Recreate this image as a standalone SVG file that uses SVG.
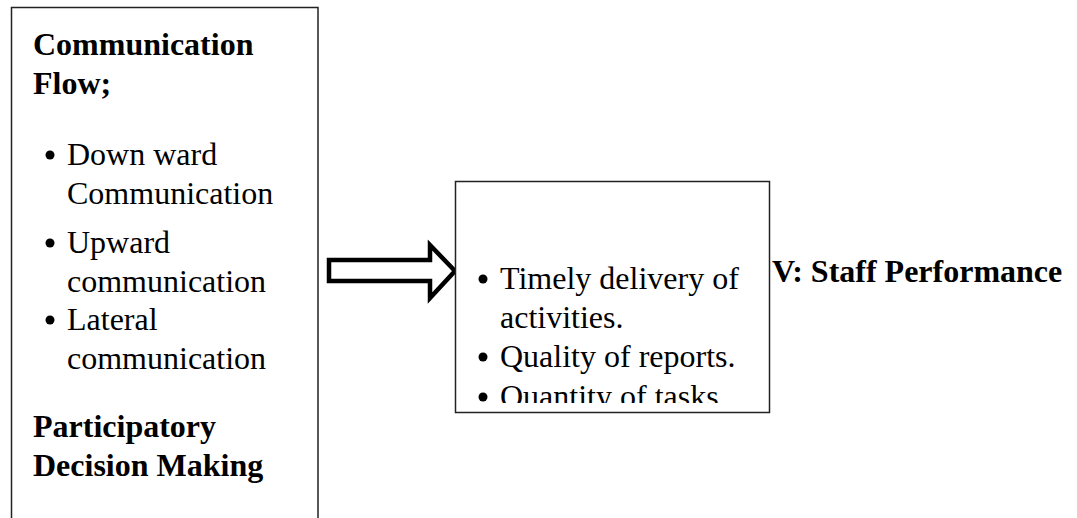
<svg xmlns="http://www.w3.org/2000/svg" width="1077" height="518" viewBox="0 0 1077 518">
<style>
.box{fill:#fff;stroke:#222;stroke-width:1.5}
.h{font-family:"Liberation Serif","Times New Roman",serif;font-size:32px;font-weight:bold;fill:#000}
.t{font-family:"Liberation Serif","Times New Roman",serif;font-size:32px;fill:#000}
.b{fill:#000}
</style>
<defs>
<clipPath id="clipR"><rect x="456" y="182" width="313" height="221"/></clipPath>
</defs>
<rect width="1077" height="518" fill="#fff"/>
<g id="iv-box">
<path class="box" d="M11.5,530 V7.5 H318 V530"/>
<text class="h" x="33" y="55">Communication</text>
<text class="h" x="33" y="94">Flow;</text>
<circle class="b" cx="50" cy="155" r="4.5"/>
<text class="t" x="67" y="165">Down ward</text>
<text class="t" x="67" y="204">Communication</text>
<circle class="b" cx="50" cy="243" r="4.5"/>
<text class="t" x="67" y="253">Upward</text>
<text class="t" x="67" y="292">communication</text>
<circle class="b" cx="50" cy="320" r="4.5"/>
<text class="t" x="67" y="330">Lateral</text>
<text class="t" x="67" y="369">communication</text>
<text class="h" x="33" y="437">Participatory</text>
<text class="h" x="33" y="476">Decision Making</text>
</g>
<g id="connectors">
<polygon points="329,260 430,260 430,245 455,271 430,298 430,281 329,281" fill="#fff" stroke="#000" stroke-width="4.5" stroke-linejoin="miter"/>
</g>
<g id="dv-label">
<text class="h" x="772" y="282">V: Staff Performance</text>
</g>
<g id="dv-box">
<rect class="box" x="455.5" y="181.5" width="314" height="231"/>
<g clip-path="url(#clipR)">
<circle class="b" cx="483" cy="279" r="4.5"/>
<text class="t" x="500" y="289">Timely delivery of</text>
<text class="t" x="500" y="328">activities.</text>
<circle class="b" cx="483" cy="357" r="4.5"/>
<text class="t" x="500" y="367">Quality of reports.</text>
<circle class="b" cx="483" cy="397" r="4.5"/>
<text class="t" x="500" y="407">Quantity of tasks</text>
</g>
</g>
</svg>
